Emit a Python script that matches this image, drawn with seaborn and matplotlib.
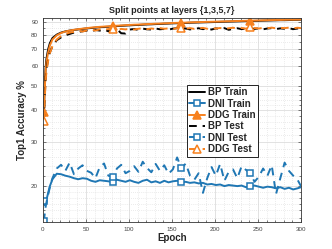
import matplotlib
matplotlib.use("Agg")
import matplotlib.pyplot as plt
import seaborn as sns
from matplotlib.ticker import FixedLocator, NullFormatter

# Epochs sampled from the curves
epochs = [1, 2, 3, 4, 6, 8,
          11, 16, 21, 26, 31, 36, 41, 46, 51, 56, 61, 66, 71, 76,
          81, 86, 91, 96, 101, 106, 111, 116, 121, 126, 131, 136, 141, 146, 151, 156,
          161, 166, 171, 176, 181, 186, 191, 196, 201, 206, 211, 216, 221, 226, 231, 236,
          241, 246, 251, 256, 261, 266, 271, 276, 281, 286, 291, 296, 300]

bp_train = [40, 50, 59, 64, 70, 74,
            77.5, 80, 81.5, 82.4, 83.0, 83.5, 83.9, 84.3, 84.7, 85.0, 85.3, 85.6, 85.8, 86.0,
            86.3, 86.5, 86.7, 86.9, 87.1, 87.3, 87.4, 87.6, 87.8, 87.9, 88.1, 88.2, 88.4, 88.5, 88.7, 88.8,
            88.9, 89.0, 89.2, 89.3, 89.4, 89.5, 89.6, 89.7, 89.8, 89.9, 90.0, 90.1, 90.2, 90.3, 90.4, 90.5,
            90.6, 90.7, 90.8, 90.9, 91.0, 91.1, 91.2, 91.3, 91.3, 91.4, 91.5, 91.6, 91.7]

ddg_train = [39.3, 48, 57, 62, 68, 72.5,
             76.5, 79.5, 81.2, 82.3, 83.0, 83.6, 84.1, 84.5, 84.9, 85.3, 85.6, 85.9, 86.1, 86.3,
             86.6, 86.8, 87.0, 87.2, 87.4, 87.6, 87.7, 87.9, 88.1, 88.2, 88.4, 88.5, 88.7, 88.8, 89.0, 89.1,
             89.2, 89.3, 89.5, 89.6, 89.7, 89.8, 89.9, 90.0, 90.1, 90.2, 90.3, 90.4, 90.5, 90.6, 90.7, 90.8,
             90.9, 91.0, 91.1, 91.2, 91.3, 91.4, 91.5, 91.5, 91.6, 91.7, 91.7, 91.8, 91.9]

bp_test = [36, 45, 53, 58, 64, 68,
           72, 76, 78, 79.5, 80.5, 81.5, 82, 82.5, 83, 82.3, 83.5, 83, 83.8, 82.5,
           83.5, 84, 81, 80.8, 83.8, 84.2, 83.5, 84.5, 84, 83.8, 84.6, 84, 84.3, 83.7, 84.5, 84.8,
           84.2, 84.6, 83.9, 84.4, 84.8, 84.1, 84.5, 83.8, 84.7, 84.2, 84.9, 83.6, 84.3, 84.8, 84.1, 84.6,
           84.9, 84.3, 84.7, 84.0, 84.6, 84.9, 84.2, 84.7, 84.4, 84.8, 84.1, 84.6, 84.5]

ddg_test = [36.2, 44, 52, 57, 63, 67.5,
            72, 76.5, 79, 80.5, 81.5, 82, 82.8, 82.3, 83.2, 83.8, 83, 84, 83.5, 84.2,
            84, 83.6, 84.3, 83.9, 84.5, 83.8, 84.4, 84.8, 84.1, 84.6, 84.2, 84.9, 84.4, 84.7, 84.2, 84.9,
            85.2, 84.5, 84.9, 84.3, 84.8, 85.1, 84.4, 84.9, 84.6, 85.0, 84.3, 84.8, 85.2, 84.6, 85.0, 84.5,
            85.4, 85.0, 84.6, 85.1, 84.8, 85.3, 84.7, 85.1, 84.9, 85.3, 84.8, 85.2, 84.9]

dni_train = [17.4, 16.8, 17.0, 17.6, 18.8, 20.0,
             21.3, 22.4, 22.3, 22.0, 21.8, 21.5, 21.3, 21.5, 21.4, 21.0, 20.8, 21.1, 21.0, 20.9,
             20.7, 21.2, 21.0, 20.8, 21.1, 20.8, 20.6, 21.0, 21.2, 20.7, 20.9, 20.6, 21.0, 20.7, 20.9, 21.0,
             20.7, 20.8, 20.6, 20.7, 20.5, 20.6, 20.3, 20.4, 20.2, 20.3, 20.0, 20.2, 20.1, 20.0, 20.1, 19.8,
             20.0, 20.1, 19.9, 19.7, 19.9, 19.8, 19.6, 19.8, 19.5, 19.7, 19.4, 19.6, 19.8]

dni_test = [14.5, 15.5, 16.5, 17.2, 18.5, 19.8,
            21.5, 23.5, 24.3, 23.0, 24.8, 22.3, 23.5, 24.2, 23.0, 22.6, 21.5, 23.8, 24.6, 22.0,
            21.8, 23.5, 24.3, 22.5, 23.0, 24.0, 22.8, 25.0, 23.6, 22.7, 24.5, 23.0, 24.2, 22.4, 23.3, 26.0,
            23.5, 24.6, 22.0, 21.2, 22.5, 18.8, 21.5, 23.8, 22.0, 24.5, 21.0, 22.8, 23.3, 21.5, 24.0, 23.2,
            22.5, 20.8, 21.8, 23.5, 22.0, 24.2, 18.6, 21.5, 24.8, 23.0, 22.0, 21.2, 20.0]

yticks = [20, 30, 40, 50, 60, 70, 80, 90]
xticks = [0, 50, 100, 150, 200, 250, 300]

blue = "#1f77b4"
orange = "#f7811e"
marks = [epochs.index(e) for e in (1, 81, 161, 241)]

sns.set_style("ticks")
plt.rcParams["font.family"] = ["Liberation Sans", "DejaVu Sans"]

fig = plt.figure(figsize=(3.32, 2.49), dpi=100)
ax = fig.add_axes([0.1295, 0.1084, 0.777, 0.821])

sns.lineplot(x=epochs, y=bp_train, ax=ax, color="black", lw=1.4, label="BP Train")
sns.lineplot(x=epochs, y=dni_train, ax=ax, color=blue, lw=1.4, marker="s", ms=4.8,
             mfc="white", mec=blue, mew=1.1, markevery=marks, label="DNI Train")
sns.lineplot(x=epochs, y=ddg_train, ax=ax, color=orange, lw=1.4, marker="^", ms=6,
             mfc=orange, mec=orange, mew=1.1, markevery=marks, label="DDG Train")
sns.lineplot(x=epochs, y=bp_test, ax=ax, color="black", lw=1.4, ls=(0, (4, 3)), label="BP Test")
sns.lineplot(x=epochs, y=dni_test, ax=ax, color=blue, lw=1.4, ls=(0, (4, 3)), marker="s", ms=4.8,
             mfc="white", mec=blue, mew=1.1, markevery=marks, label="DNI Test")
sns.lineplot(x=epochs, y=ddg_test, ax=ax, color=orange, lw=1.4, ls=(0, (4, 3)), marker="^", ms=6,
             mfc="white", mec=orange, mew=1.1, markevery=marks, label="DDG Test")

ax.set_yscale("log")
ax.set_xlim(0, 300)
ax.set_ylim(14.4, 93.5)
ax.yaxis.set_major_locator(FixedLocator(yticks))
ax.set_yticklabels([str(v) for v in yticks])
ax.yaxis.set_minor_locator(FixedLocator([15, 16, 17, 18, 19, 22, 24, 26, 28, 32, 34, 36, 38,
                                         42, 44, 46, 48, 55, 65, 75, 85]))
ax.yaxis.set_minor_formatter(NullFormatter())
ax.set_xticks(xticks)
ax.xaxis.set_minor_locator(FixedLocator(list(range(10, 300, 10))))

ax.grid(True, which="major", color="#dddddd", lw=0.6)
ax.grid(True, which="minor", color="#d8d8d8", lw=0.5, ls=(0, (1, 2)))
ax.tick_params(axis="both", which="both", direction="in", labelsize=4.5, colors="#444444",
               length=2, width=0.5, top=True, right=True)
ax.tick_params(which="minor", length=1.2)
for s in ax.spines.values():
    s.set_color("#333333")
    s.set_linewidth(0.6)

ax.set_title("Split points at layers {1,3,5,7}", fontsize=6.5, fontweight="bold", pad=3)
ax.set_xlabel("Epoch", fontsize=7, fontweight="bold", labelpad=1)
ax.set_ylabel("Top1 Accuracy %", fontsize=7, fontweight="bold", labelpad=3)

leg = ax.legend(loc="upper left", bbox_to_anchor=(0.558, 0.672),
                prop={"weight": "bold", "size": 7}, frameon=True, fancybox=False,
                edgecolor="black", framealpha=1, borderpad=0.25, labelspacing=0.15,
                handlelength=1.6, handletextpad=0.3, borderaxespad=0)
leg.get_frame().set_linewidth(0.6)

fig.savefig("out.png", dpi=100)
